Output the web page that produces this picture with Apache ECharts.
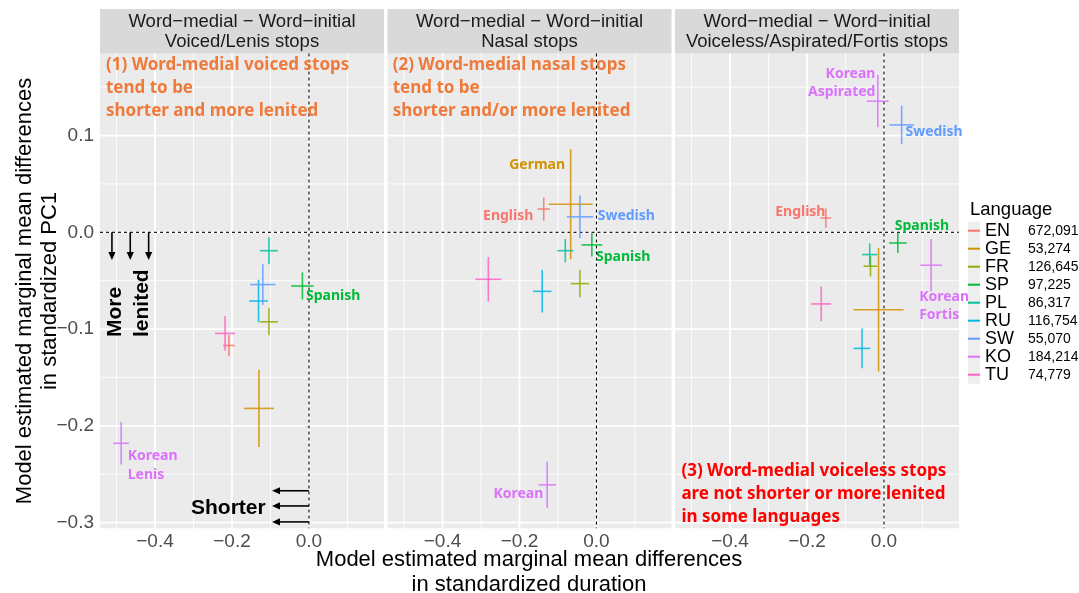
<!DOCTYPE html>
<html><head><meta charset="utf-8">
<script src="https://cdn.jsdelivr.net/npm/echarts@6.0.0/dist/echarts.min.js"></script>
<style>html,body{margin:0;padding:0;background:#fff}#c{width:1079px;height:593px}</style>
</head><body><div id="c"></div>
<script>
// ---------- data ----------
const languages = ['EN','GE','FR','SP','PL','RU','SW','KO','TU'];
const sampleSizes = ['672,091','53,274','126,645','97,225','86,317','116,754','55,070','184,214','74,779'];
const langColors = ['#F8766D','#D39200','#93AA00','#00BA38','#00C19F','#00B9E3','#619CFF','#DB72FB','#FF61C3'];
const stripPrefix = 'Word\u2212medial \u2212 Word\u2212initial';
const panelTitles = ['Voiced/Lenis stops','Nasal stops','Voiceless/Aspirated/Fortis stops'];
const xTicks = [-0.4, -0.2, 0.0];
const yTicks = [-0.3, -0.2, -0.1, 0.0, 0.1];
const xMinor = [-0.5, -0.3, -0.1, 0.1];
const yMinor = [-0.25, -0.15, -0.05, 0.05, 0.15];

// [language, duration diff, PC1 diff, duration half-CI, PC1 half-CI]
const voiced = [
  ['EN', -0.208, -0.117, 0.015, 0.011],
  ['GE', -0.130, -0.182, 0.039, 0.040],
  ['FR', -0.104, -0.0925, 0.023, 0.014],
  ['SP', -0.017, -0.0555, 0.029, 0.014],
  ['PL', -0.104, -0.019, 0.023, 0.014],
  ['RU', -0.131, -0.071, 0.024, 0.022],
  ['SW', -0.120, -0.054, 0.033, 0.021],
  ['KO', -0.488, -0.218, 0.020, 0.022],
  ['TU', -0.218, -0.1045, 0.026, 0.018]
];
const nasal = [
  ['EN', -0.137, 0.024, 0.016, 0.012],
  ['GE', -0.067, 0.029, 0.057, 0.057],
  ['FR', -0.043, -0.053, 0.024, 0.014],
  ['SP', -0.012, -0.013, 0.027, 0.012],
  ['PL', -0.081, -0.019, 0.021, 0.012],
  ['RU', -0.141, -0.061, 0.024, 0.022],
  ['SW', -0.043, 0.016, 0.034, 0.022],
  ['KO', -0.128, -0.261, 0.0225, 0.024],
  ['TU', -0.281, -0.0486, 0.034, 0.023]
];
const voiceless = [
  ['EN', -0.151, 0.0148, 0.014, 0.010],
  ['GE', -0.014, -0.080, 0.065, 0.064],
  ['FR', -0.035, -0.035, 0.018, 0.0105],
  ['SP', 0.036, -0.011, 0.023, 0.0105],
  ['PL', -0.037, -0.023, 0.020, 0.0116],
  ['RU', -0.057, -0.120, 0.0217, 0.0205],
  ['SW', 0.046, 0.111, 0.032, 0.020],
  ['KO', -0.016, 0.1355, 0.028, 0.027],
  ['KO', 0.1225, -0.034, 0.028, 0.027],
  ['TU', -0.163, -0.074, 0.026, 0.018]
];
const panelData = [voiced, nasal, voiceless];

// annotations: [panel, x, y, text, colourKey, align]
const notes = [
  [0, -0.5275, 0.1488, '(1) Word-medial voiced stops\ntend to be\nshorter and more lenited', 'note1', 'left'],
  [0, -0.0078, -0.0655, 'Spanish', 'SP', 'left'],
  [0, -0.471, -0.241, 'Korean\nLenis', 'KO', 'left'],
  [0, -0.1125, -0.2847, 'Shorter', 'dir', 'right'],
  [0, -0.504, -0.1082, 'More', 'dirV', 'left'],
  [0, -0.434, -0.1082, 'lenited', 'dirV', 'left'],
  [1, -0.5295, 0.1486, '(2) Word-medial nasal stops\ntend to be\nshorter and/or more lenited', 'note1', 'left'],
  [1, -0.0817, 0.0692, 'German', 'GE', 'right'],
  [1, -0.164, 0.0168, 'English', 'EN', 'right'],
  [1, 0.0032, 0.0168, 'Swedish', 'SW', 'left'],
  [1, -0.0012, -0.0258, 'Spanish', 'SP', 'left'],
  [1, -0.138, -0.2702, 'Korean', 'KO', 'right'],
  [2, -0.0221, 0.1541, 'Korean\nAspirated', 'KO', 'right'],
  [2, 0.0559, 0.1034, 'Swedish', 'SW', 'left'],
  [2, -0.152, 0.021, 'English', 'EN', 'right'],
  [2, 0.0281, 0.0062, 'Spanish', 'SP', 'left'],
  [2, 0.0915, -0.076, 'Korean\nFortis', 'KO', 'left'],
  [2, -0.5263, -0.2702, '(3) Word-medial voiceless stops\nare not shorter or more lenited\nin some languages', 'note3', 'left']
];
// direction arrows: [panel, x1, y1, x2, y2]
const arrows = [
  [0, -0.512, 0, -0.512, -0.0286],
  [0, -0.4644, 0, -0.4644, -0.0286],
  [0, -0.4166, 0, -0.4166, -0.0286],
  [0, 0, -0.2671, -0.096, -0.2671],
  [0, 0, -0.2828, -0.096, -0.2828],
  [0, 0, -0.2993, -0.096, -0.2993]
];

// ---------- layout / style ----------
const SANS = '"Liberation Sans", Arial, sans-serif';
const BOLD = '"Noto Sans", sans-serif';
const gridLeft = [100, 387.5, 675];
const gridTop = 53.5, gridW = 284, gridH = 474.8;
const X_MIN = -0.543, X_MAX = 0.195, Y_MIN = -0.3059, Y_MAX = 0.1848;
const noteColors = {note1: '#EE7A3B', note3: '#FF0000', dir: '#000', dirV: '#000'};
function colorOf(key) {
  const i = languages.indexOf(key);
  return i >= 0 ? langColors[i] : noteColors[key];
}
const fmt = v => (v < -1e-9 ? '\u2212' : '') + Math.abs(v).toFixed(1);

const grids = gridLeft.map(l => ({left: l, top: gridTop, width: gridW, height: gridH,
  show: true, backgroundColor: '#EBEBEB', borderWidth: 0, containLabel: false}));
const xAxes = gridLeft.map((l, i) => ({
  type: 'value', gridIndex: i, min: X_MIN, max: X_MAX, splitNumber: 3,
  axisLine: {show: false}, splitLine: {show: false},
  axisTick: {show: true, customValues: xTicks, length: 4, lineStyle: {color: '#333', width: 1}},
  axisLabel: {customValues: xTicks, formatter: fmt, color: '#4D4D4D', fontSize: 19, fontFamily: SANS, margin: 4}
}));
const yAxes = gridLeft.map((l, i) => ({
  type: 'value', gridIndex: i, min: Y_MIN, max: Y_MAX, splitNumber: 5,
  axisLine: {show: false}, splitLine: {show: false},
  axisTick: {show: i === 0, customValues: yTicks, length: 4, lineStyle: {color: '#333', width: 1}},
  axisLabel: {show: i === 0, customValues: yTicks, formatter: fmt, color: '#4D4D4D', fontSize: 19, fontFamily: SANS, margin: 6}
}));

const series = [];
// grid lines + zero reference lines
const gridRows = [].concat(
  xTicks.map(v => [0, v]), xMinor.map(v => [1, v]),
  yTicks.map(v => [2, v]), yMinor.map(v => [3, v]), [[4, 0], [5, 0]]);
gridLeft.forEach((l, p) => {
  series.push({
    type: 'custom', xAxisIndex: p, yAxisIndex: p, z: 1, silent: true, data: gridRows,
    renderItem: (params, api) => {
      const kind = api.value(0), v = api.value(1), cs = params.coordSys;
      let x1, y1, x2, y2;
      if (kind === 0 || kind === 1 || kind === 4) {
        x1 = x2 = api.coord([v, 0])[0]; y1 = cs.y; y2 = cs.y + cs.height;
      } else {
        y1 = y2 = api.coord([0, v])[1]; x1 = cs.x; x2 = cs.x + cs.width;
      }
      let style;
      if (kind === 0 || kind === 2) style = {stroke: '#FFFFFF', lineWidth: 1.8};
      else if (kind === 1 || kind === 3) style = {stroke: '#FFFFFF', lineWidth: 0.9};
      else style = {stroke: '#000000', lineWidth: 1.1, lineDash: [3, 3]};
      return {type: 'line', shape: {x1, y1, x2, y2}, style};
    }
  });
});
// error-bar crosses
panelData.forEach((rows, p) => {
  languages.forEach((lang, li) => {
    const d = rows.filter(r => r[0] === lang).map(r => [r[1], r[2], r[3], r[4]]);
    series.push({
      type: 'custom', name: lang, xAxisIndex: p, yAxisIndex: p, z: 2,
      itemStyle: {color: langColors[li]}, encode: {x: 0, y: 1}, data: d,
      renderItem: (params, api) => {
        const x = api.value(0), y = api.value(1), hx = api.value(2), hy = api.value(3);
        const a = api.coord([x - hx, y]), b = api.coord([x + hx, y]);
        const t = api.coord([x, y + hy]), u = api.coord([x, y - hy]);
        const style = {stroke: langColors[li], lineWidth: 1.6, opacity: 0.85};
        return {type: 'group', children: [
          {type: 'line', shape: {x1: a[0], y1: a[1], x2: b[0], y2: b[1]}, style},
          {type: 'line', shape: {x1: t[0], y1: t[1], x2: u[0], y2: u[1]}, style}
        ]};
      }
    });
  });
});
// arrows
gridLeft.forEach((l, p) => {
  const rows = arrows.filter(r => r[0] === p).map(r => r.slice(1));
  if (!rows.length) return;
  series.push({
    type: 'custom', xAxisIndex: p, yAxisIndex: p, z: 3, silent: true, data: rows,
    encode: {x: [0, 2], y: [1, 3]},
    renderItem: (params, api) => {
      const a = api.coord([api.value(0), api.value(1)]), b = api.coord([api.value(2), api.value(3)]);
      const ang = Math.atan2(b[1] - a[1], b[0] - a[0]);
      const L = 8, W = 3.6;
      const bx = b[0] - L * Math.cos(ang), by = b[1] - L * Math.sin(ang);
      const px = -Math.sin(ang) * W, py = Math.cos(ang) * W;
      return {type: 'group', children: [
        {type: 'line', shape: {x1: a[0], y1: a[1], x2: bx, y2: by}, style: {stroke: '#000', lineWidth: 1.6}},
        {type: 'polygon', shape: {points: [[b[0], b[1]], [bx + px, by + py], [bx - px, by - py]]}, style: {fill: '#000'}}
      ]};
    }
  });
});
// text annotations
gridLeft.forEach((l, p) => {
  const rows = notes.filter(r => r[0] === p);
  series.push({
    type: 'custom', xAxisIndex: p, yAxisIndex: p, z: 4, silent: true,
    data: rows.map(r => [r[1], r[2]]), encode: {x: 0, y: 1},
    renderItem: (params, api) => {
      const r = rows[params.dataIndex];
      const pt = api.coord([api.value(0), api.value(1)]);
      const key = r[4];
      const big = key === 'note1' || key === 'note3';
      const dir = key === 'dir' || key === 'dirV';
      return {
        type: 'text', x: pt[0], y: pt[1], rotation: key === 'dirV' ? Math.PI / 2 : 0,
        style: {
          text: r[3], fill: colorOf(key),
          fontFamily: dir ? SANS : BOLD, fontWeight: 'bold',
          fontSize: big ? 17 : (dir ? 21 : 14),
          lineHeight: big ? 23 : 18.5,
          align: r[5], verticalAlign: 'middle'
        }
      };
    }
  });
});

// ---------- graphics: strips, axis titles, legend title ----------
const graphic = [];
gridLeft.forEach((l, p) => {
  graphic.push({type: 'rect', left: l, top: 9, shape: {width: gridW, height: gridTop - 9}, style: {fill: '#D9D9D9'}, silent: true});
  graphic.push({type: 'text', x: l + gridW / 2, y: 31.7, silent: true,
    style: {text: stripPrefix + '\n' + panelTitles[p], fill: '#1A1A1A', fontFamily: SANS, fontSize: 18.5,
      lineHeight: 20, align: 'center', verticalAlign: 'middle'}});
});
graphic.push({type: 'text', x: 529, y: 572.5, silent: true,
  style: {text: 'Model estimated marginal mean differences\nin standardized duration', fill: '#000',
    fontFamily: SANS, fontSize: 22, lineHeight: 25, align: 'center', verticalAlign: 'middle'}});
graphic.push({type: 'text', x: 37.5, y: 291, rotation: Math.PI / 2, silent: true,
  style: {text: 'Model estimated marginal mean differences\nin standardized PC1', fill: '#000',
    fontFamily: SANS, fontSize: 22, lineHeight: 25, align: 'center', verticalAlign: 'middle'}});
graphic.push({type: 'text', x: 970, y: 210, silent: true,
  style: {text: 'Language', fill: '#000', fontFamily: SANS, fontSize: 18.5, align: 'left', verticalAlign: 'middle'}});
graphic.push({type: 'rect', left: 968, top: 221.7, z: -1, silent: true,
  shape: {width: 12, height: 18 * languages.length}, style: {fill: '#EEEEEE'}});

const chart = echarts.init(document.getElementById('c'), null, {renderer: 'canvas'});
chart.setOption({
  animation: false,
  grid: grids, xAxis: xAxes, yAxis: yAxes, series, graphic,
  legend: {
    data: languages, orient: 'vertical', left: 968, top: 221.7, padding: 0,
    itemWidth: 12, itemHeight: 2, itemGap: 0, icon: 'rect', selectedMode: false,
    formatter: name => '{a|' + name + '}{b|' + sampleSizes[languages.indexOf(name)] + '}',
    textStyle: {rich: {
      a: {fontSize: 18, fontFamily: SANS, color: '#000', width: 43, lineHeight: 18},
      b: {fontSize: 14, fontFamily: SANS, color: '#000', lineHeight: 18}
    }}
  }
});
</script></body></html>
